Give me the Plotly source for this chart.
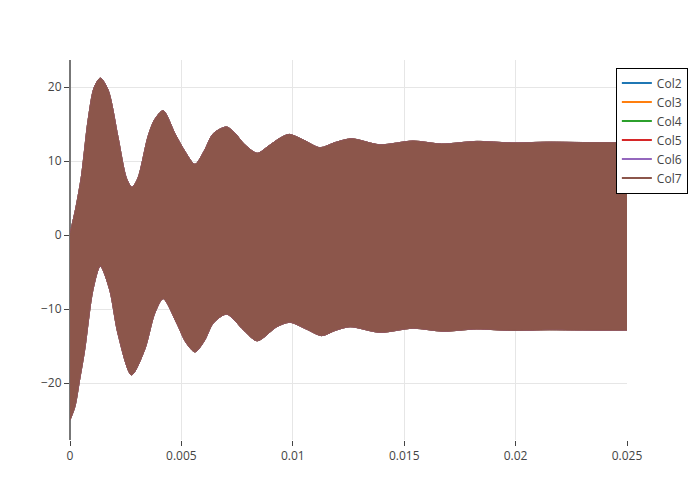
import plotly.graph_objects as go

# Envelope of the densely oscillating signals
upper_t = [0.0, 0.00025, 0.00051, 0.00081, 0.00108, 0.00136, 0.00171, 0.00215,
           0.00253, 0.00278, 0.00305, 0.0035, 0.0038, 0.00418, 0.00471, 0.00516, 0.00561,
           0.00603, 0.00643, 0.00703, 0.00745, 0.00778, 0.0084, 0.0089, 0.00943, 0.00984,
           0.0105, 0.01122, 0.0119, 0.01264, 0.0139, 0.0154, 0.01668, 0.01825, 0.0198,
           0.0215, 0.023, 0.025]
upper_v = [0.2, 3.5, 7.9, 15.5, 19.9, 21.2, 19.6, 13.3,
           7.7, 6.45, 7.7, 13.3, 15.6, 16.8, 13.7, 11.3, 9.55,
           11.4, 13.7, 14.6, 13.6, 12.4, 11.05, 12.0, 13.1, 13.6,
           12.8, 11.8, 12.5, 13.0, 12.2, 12.7, 12.3, 12.65, 12.45,
           12.55, 12.5, 12.5]

lower_t = [0.0, 0.00022, 0.00043, 0.00066, 0.00103, 0.00136, 0.00178, 0.00215, 0.00276,
           0.00335, 0.0038, 0.00418, 0.00479, 0.0052, 0.00561, 0.00603, 0.00643, 0.00703,
           0.00778, 0.0084, 0.00928, 0.00987, 0.0106, 0.0113, 0.0119, 0.01257, 0.01391,
           0.0154, 0.01674, 0.01825, 0.0198, 0.0215, 0.023, 0.025]
lower_v = [-25.0, -23.2, -19.6, -15.5, -7.4, -4.2, -7.4, -13.3, -18.9,
           -15.5, -10.6, -8.6, -11.9, -14.5, -15.8, -14.3, -11.9, -10.7,
           -12.8, -14.3, -12.4, -11.8, -12.7, -13.6, -12.9, -12.4, -13.15,
           -12.6, -13.0, -12.7, -12.9, -12.8, -12.85, -12.85]

series_names = ["Col2", "Col3", "Col4", "Col5", "Col6", "Col7"]
series_colors = ["#1f77b4", "#ff7f0e", "#2ca02c", "#d62728", "#9467bd", "#8c564b"]

fig = go.Figure()

for name, color in zip(series_names, series_colors):
    fig.add_trace(go.Scatter(
        x=lower_t, y=lower_v, mode="lines",
        line=dict(color=color, width=0.8, shape="spline", smoothing=0.8),
        showlegend=False, hoverinfo="skip"))
    fig.add_trace(go.Scatter(
        x=upper_t, y=upper_v, mode="lines", fill="tonexty",
        fillcolor=color,
        line=dict(color=color, width=0.8, shape="spline", smoothing=0.8),
        showlegend=False, name=name))

# legend entries
for name, color in zip(series_names, series_colors):
    fig.add_trace(go.Scatter(
        x=[None], y=[None], mode="lines", name=name,
        line=dict(color=color, width=2)))

fig.update_layout(
    width=700, height=500,
    margin=dict(l=62, r=81, t=52, b=68),
    paper_bgcolor="white", plot_bgcolor="white",
    font=dict(family="Open Sans, verdana, arial, sans-serif", size=12, color="#444"),
    legend=dict(x=0.98, y=0.98, xanchor="left", yanchor="top", traceorder="normal",
                bordercolor="#000", borderwidth=1, bgcolor="white",
                font=dict(size=12)),
    xaxis=dict(range=[0, 0.025], tickvals=[0, 0.005, 0.01, 0.015, 0.02, 0.025],
               ticktext=["0", "0.005", "0.01", "0.015", "0.02", "0.025"],
               showgrid=True, gridcolor="#e6e6e6",
               zeroline=True, zerolinecolor="#777", zerolinewidth=2,
               ticks="outside", ticklen=5, tickcolor="#444", showline=False),
    yaxis=dict(range=[-27.7, 23.65], tickvals=[-20, -10, 0, 10, 20],
               showgrid=True, gridcolor="#e6e6e6", zeroline=False,
               ticks="outside", ticklen=5, tickcolor="#444", showline=False),
)

fig.write_html("out.html")
